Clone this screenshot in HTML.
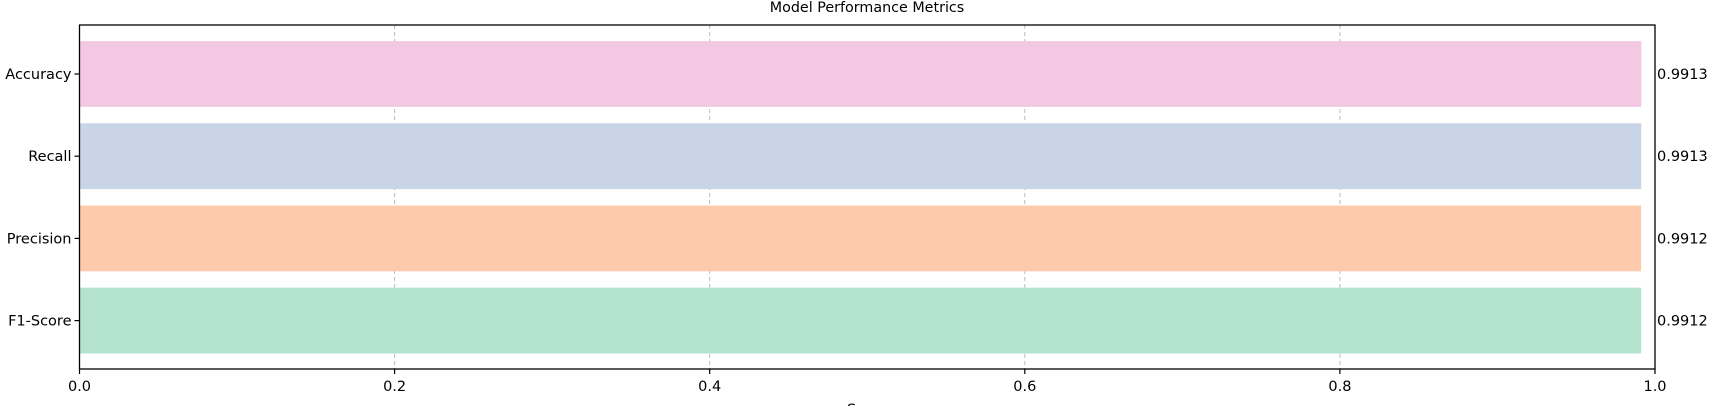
<!DOCTYPE html>
<html><head><meta charset="utf-8"><style>
html,body{margin:0;padding:0;background:#fff;}
svg text{font-family:"DejaVu Sans","Liberation Sans",sans-serif;fill:#000;}
</style></head><body>
<svg id="chart" width="1710" height="406" viewBox="0 0 1710 406" xmlns="http://www.w3.org/2000/svg">
<text x="867" y="12" font-size="14.3" text-anchor="middle">Model Performance Metrics</text>
<g id="grid"></g><g id="bars"></g><g id="axes"></g>
<text x="867" y="414" font-size="14.3" text-anchor="middle">Score</text>
</svg>
<script>
const categories=["Accuracy","Recall","Precision","F1-Score"];
const values=[0.9913,0.9913,0.9912,0.9912];
const valueLabels=["0.9913","0.9913","0.9912","0.9912"];
const colors=["#f3c8e3","#c9d5e7","#fdcbab","#b3e2cf"];
const xTicks=[0,0.2,0.4,0.6,0.8,1.0];
const xTickLabels=["0.0","0.2","0.4","0.6","0.8","1.0"];
const NS="http://www.w3.org/2000/svg";
const L=79.5,R=1655,T=25,B=369;
const x=v=>L+(R-L)*v;
const step=82.2, c0=74;
const y=i=>c0+i*step;
const bh=65.8;
const FS=14.5;
function mk(t,a,p){const e=document.createElementNS(NS,t);for(const k in a)e.setAttribute(k,a[k]);p.appendChild(e);return e;}
const grid=document.getElementById('grid'),bars=document.getElementById('bars'),axes=document.getElementById('axes');
xTicks.forEach((v,i)=>{
 if(v>0&&v<1){const g=mk('line',{x1:x(v),x2:x(v),y1:T,y2:B,stroke:'#bbb','stroke-width':1,'stroke-dasharray':'4,3'},grid);
 
 }
 const tk=mk('line',{x1:x(v),x2:x(v),y1:B,y2:B+5,stroke:'#000','stroke-width':1.2},axes);
 
 
 const t=mk('text',{x:x(v),y:B+22,'font-size':FS,'text-anchor':'middle'},axes);t.textContent=xTickLabels[i];
 
 
});
categories.forEach((c,i)=>{
 const r=mk('rect',{x:L,y:y(i)-bh/2,width:x(values[i])-L,height:bh,fill:colors[i]},bars);
 
 
 const tk=mk('line',{x1:L-5,x2:L,y1:y(i),y2:y(i),stroke:'#000','stroke-width':1.2},axes);
 
 
 const t=mk('text',{x:L-8,y:y(i)+5,'font-size':FS,'text-anchor':'end'},axes);t.textContent=c;
 
 
 const v=mk('text',{x:R+2,y:y(i)+5,'font-size':FS},axes);v.textContent=valueLabels[i];
 
 
});
const fr=mk('rect',{x:L,y:T,width:R-L,height:B-T,fill:'none',stroke:'#000','stroke-width':1.3},axes);


</script>
</body></html>
